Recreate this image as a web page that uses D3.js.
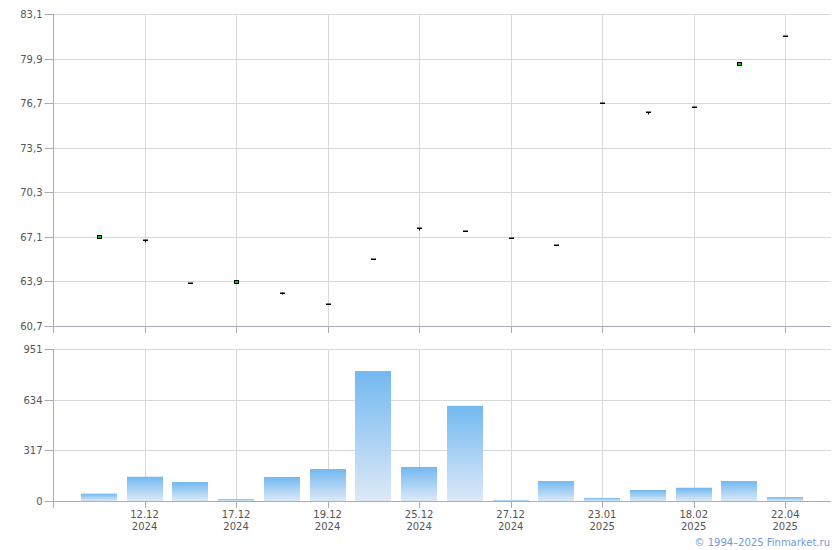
<!DOCTYPE html>
<html>
<head>
<meta charset="utf-8">
<script src="https://cdn.jsdelivr.net/npm/d3@7/dist/d3.min.js"></script>
<style>
  html, body { margin: 0; padding: 0; background: #fff; }
  svg text { font-family: "DejaVu Sans", Verdana, sans-serif; }
</style>
</head>
<body>
<svg id="chart" width="840" height="550"></svg>
<script>
// ---- data ----
const dates = ["11.12.2024","12.12.2024","16.12.2024","17.12.2024","18.12.2024","19.12.2024","24.12.2024","25.12.2024",
               "26.12.2024","27.12.2024","17.01.2025","23.01.2025","05.02.2025","18.02.2025","20.03.2025","22.04.2025"];
const openPrice  = [67.02, 66.84, 63.80, 63.82, 63.10, 62.28, 65.48, 67.70, 67.52, 67.02, 66.48, 76.70, 76.03, 76.42, 79.47, 81.52];
const closePrice = [67.24, 66.84, 63.80, 64.02, 63.10, 62.28, 65.48, 67.70, 67.52, 67.02, 66.48, 76.70, 76.03, 76.42, 79.68, 81.52];
const lowPrice   = [67.02, 66.77, 63.80, 63.82, 63.03, 62.28, 65.48, 67.63, 67.52, 67.02, 66.48, 76.70, 75.96, 76.42, 79.47, 81.52];
const highPrice  = [67.24, 66.84, 63.80, 64.02, 63.10, 62.28, 65.48, 67.70, 67.52, 67.02, 66.48, 76.70, 76.03, 76.42, 79.68, 81.52];
const volume     = [46, 152, 119, 12, 150, 200, 813, 213, 595, 6, 125, 19, 69, 83, 125, 25];
const priceTicks = [60.7, 63.9, 67.1, 70.3, 73.5, 76.7, 79.9, 83.1];
const volumeTicks = [0, 317, 634, 951];
const labelIdx = [1, 3, 5, 7, 9, 11, 13, 15];

// ---- layout ----
const svg = d3.select("#chart");
const L = 53, R = 831;
const topT = 14, topB = 326, botT = 349, botB = 501;
const gridColor = "#d5d9dd", axisColor = "#a9acb4", textColor = "#555";
const fmt = d => d.toFixed(1).replace(".", ",");

const x = d3.scaleLinear().domain([-1, dates.length]).range([L, R]);
const yP = d3.scaleLinear().domain([60.7, 83.1]).range([topB, topT]);
const yV = d3.scaleLinear().domain([0, 951]).range([botB, botT]);

// defs gradient
const defs = svg.append("defs");
const grad = defs.append("linearGradient").attr("id", "barGrad").attr("x1", 0).attr("y1", 0).attr("x2", 0).attr("y2", 1);
grad.append("stop").attr("offset", "0%").attr("stop-color", "#72b8f0");
grad.append("stop").attr("offset", "100%").attr("stop-color", "#dde9f7");

function panel(y, ticks, tf, top, bottom) {
  const g = svg.append("g");
  // horizontal grid
  g.selectAll("line.hg").data(ticks).join("line")
    .attr("x1", L).attr("x2", R).attr("y1", d => Math.round(y(d)) + 0.5).attr("y2", d => Math.round(y(d)) + 0.5)
    .attr("stroke", gridColor);
  // vertical grid
  g.selectAll("line.vg").data(labelIdx).join("line")
    .attr("x1", d => Math.round(x(d)) + 0.5).attr("x2", d => Math.round(x(d)) + 0.5)
    .attr("y1", top).attr("y2", bottom)
    .attr("stroke", gridColor);
  // left axis
  const ya = d3.axisLeft(y).tickValues(ticks).tickFormat(tf).tickSize(9).tickPadding(2);
  const ag = g.append("g").attr("transform", `translate(${L + 0.5},0)`).call(ya);
  ag.select(".domain").remove();
  ag.selectAll(".tick line").attr("stroke", axisColor);
  ag.selectAll(".tick text").attr("fill", textColor).style("font-size", "10px").attr("dy", "0.35em");
  ag.selectAll(".tick").attr("transform", d => `translate(0,${Math.round(y(d)) + 0.5})`);
  g.append("line").attr("x1", L + 0.5).attr("x2", L + 0.5).attr("y1", top).attr("y2", bottom + 7).attr("stroke", axisColor);
  // bottom axis line + ticks
  g.append("line").attr("x1", L).attr("x2", R).attr("y1", bottom + 0.5).attr("y2", bottom + 0.5).attr("stroke", axisColor);
  g.selectAll("line.bt").data(labelIdx).join("line")
    .attr("x1", d => Math.round(x(d)) + 0.5).attr("x2", d => Math.round(x(d)) + 0.5)
    .attr("y1", bottom).attr("y2", bottom + 7).attr("stroke", axisColor);
  return g;
}

panel(yP, priceTicks, fmt, topT, topB);
const vg = panel(yV, volumeTicks, d => String(d), botT, botB);

// bars
const bw = 36;
svg.append("g").selectAll("rect").data(volume).join("rect")
  .attr("x", (d, i) => Math.round(x(i) - bw / 2))
  .attr("width", bw)
  .attr("y", d => yV(d))
  .attr("height", d => botB - yV(d))
  .attr("fill", "url(#barGrad)");

// candles
const cg = svg.append("g");
const cw = 5;
dates.forEach((d, i) => {
  const cx = Math.round(x(i));
  const o = openPrice[i], c = closePrice[i];
  // wick
  if (lowPrice[i] < Math.min(o, c) || highPrice[i] > Math.max(o, c)) {
    cg.append("line").attr("x1", cx + 0.5).attr("x2", cx + 0.5)
      .attr("y1", yP(highPrice[i])).attr("y2", yP(lowPrice[i]) + 1)
      .attr("stroke", "#000").attr("stroke-width", 1);
  }
  if (Math.abs(o - c) < 1e-9) {
    cg.append("rect").attr("x", cx - 2).attr("y", Math.round(yP(o)) - 0.5).attr("width", cw).attr("height", 1.5).attr("fill", "#000");
  } else {
    const yt = yP(Math.max(o, c)), yb = yP(Math.min(o, c));
    cg.append("rect").attr("x", cx - 1.5).attr("y", Math.round(yt) + 0.5)
      .attr("width", cw - 1).attr("height", Math.max(2, Math.round(yb - yt)))
      .attr("fill", c > o ? "#00cc00" : "#ff0000").attr("stroke", "#000").attr("stroke-width", 1);
  }
});

// date labels
const lg = svg.append("g").attr("fill", textColor).style("font-size", "10px").attr("text-anchor", "middle");
labelIdx.forEach(i => {
  const parts = dates[i].split(".");
  const t = lg.append("text").attr("x", x(i)).attr("y", 518);
  t.append("tspan").attr("x", x(i)).text(parts[0] + "." + parts[1]);
  t.append("tspan").attr("x", x(i)).attr("dy", 12).text(parts[2]);
});

// footer
svg.append("text").attr("x", 830).attr("y", 546).attr("text-anchor", "end")
  .attr("fill", "#7497e0").style("font-size", "10px").text("© 1994–2025 Finmarket.ru");
</script>
</body>
</html>
